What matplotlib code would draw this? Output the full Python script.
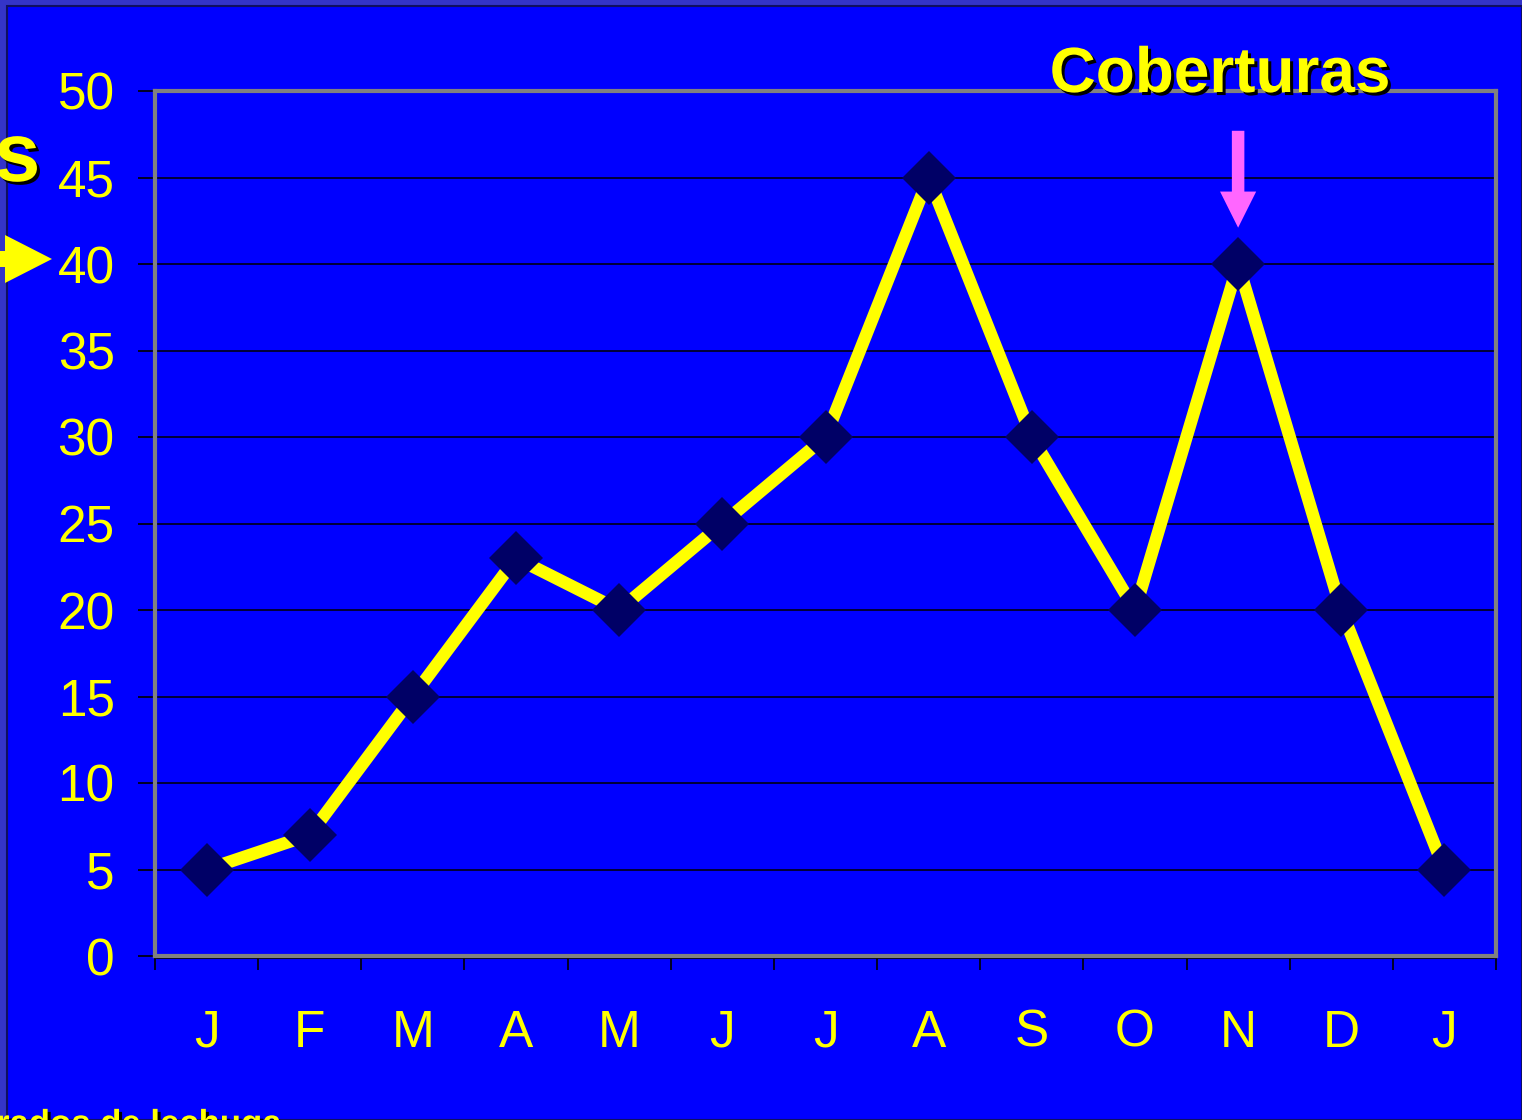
import matplotlib
matplotlib.use("Agg")
import matplotlib.pyplot as plt
import matplotlib.patheffects as pe
from matplotlib.patches import Rectangle, Polygon

months = ["J", "F", "M", "A", "M", "J", "J", "A", "S", "O", "N", "D", "J"]
values = [5, 7, 15, 23, 20, 25, 30, 45, 30, 20, 40, 20, 5]
yticks = [0, 5, 10, 15, 20, 25, 30, 35, 40, 45, 50]
annot_label = "Coberturas"
annot_index = 10

W, H = 1522, 1120
plt.rcParams['font.family'] = ['Liberation Sans', 'DejaVu Sans']
fig = plt.figure(figsize=(W / 100, H / 100), dpi=100)
fig.patch.set_facecolor('#3434C8')

def fx(px):
    return px / W

def fy(py):
    return 1 - py / H

# inner blue panel
fig.patches.append(Rectangle((fx(7), 0), 1 - fx(7), fy(6), transform=fig.transFigure,
                             facecolor='#0000FF', edgecolor='#101060', linewidth=1.5, zorder=-5))

ax = fig.add_axes([fx(155), fy(956), fx(1496) - fx(155), fy(91) - fy(956)])
ax.set_zorder(2)
ax.set_facecolor('#0000FF')
x = list(range(len(months)))
ax.plot(x, values, color='#FFFF00', linewidth=9, zorder=3, solid_capstyle='butt')
ax.plot(x, values, linestyle='none', marker='D', markersize=27, color='#000066',
        markeredgewidth=0, zorder=4)

ax.set_xlim(-0.5, len(months) - 0.5)
ax.set_ylim(0, 50)
ax.set_yticks(yticks)
ax.set_yticklabels([str(v) for v in yticks])
ax.set_xticks(x)
ax.set_xticklabels(months)
ax.set_xticks([i - 0.5 for i in range(len(months) + 1)], minor=True)

ax.tick_params(axis='y', colors='black', labelcolor='#FFFF00', labelsize=37,
               length=12, width=1.2, pad=17, direction='out')
ax.tick_params(axis='x', which='major', length=0, labelcolor='#FFFF00', labelsize=37, pad=38)
ax.tick_params(axis='x', which='minor', length=10, width=1.2, colors='black', direction='out')

for v in yticks[1:-1]:
    ax.axhline(v, color='black', linewidth=1.1, zorder=1)

for s in ax.spines.values():
    s.set_color('#808080')
    s.set_linewidth(3)
ax.axvline(-0.5, color='black', linewidth=1.3, zorder=2, clip_on=False)
ax.axhline(-0.12, color='black', linewidth=1.3, zorder=2, clip_on=False)

# pink arrow above N
ax.annotate('', xy=(annot_index, 42.1), xytext=(annot_index, 47.7),
            arrowprops=dict(arrowstyle='simple,head_length=1.3,head_width=1.3,tail_width=0.45',
                            mutation_scale=20, color='#FF66FF', lw=0,
                            shrinkA=0, shrinkB=0), zorder=5)

shadow = [pe.SimplePatchShadow(offset=(2.2, -2.2), shadow_rgbFace='black', alpha=1), pe.Normal()]
fig.text(fx(1220), fy(92), annot_label, ha='center', va='baseline', fontsize=46,
         fontweight='bold', color='#FFFF00', path_effects=shadow, zorder=6)

# cut-off texts at edges
fig.text(fx(-6), fy(181), "s", ha='left', va='baseline', fontsize=60,
         fontweight='bold', color='#FFFF00', path_effects=shadow, zorder=6)
fig.text(fx(-4), fy(1134), "rados de lechuga", ha='left', va='baseline', fontsize=25,
         fontweight='bold', color='#FFFF00', path_effects=shadow, zorder=6)

# yellow arrow at left
fig.patches.append(Polygon([(fx(0), fy(251)), (fx(5), fy(251)), (fx(5), fy(235)),
                            (fx(52), fy(259)), (fx(5), fy(283)), (fx(5), fy(267)),
                            (fx(0), fy(267))], closed=True, transform=fig.transFigure,
                           facecolor='#FFFF00', edgecolor='none', zorder=6))

fig.savefig('out.png', dpi=100, facecolor=fig.get_facecolor())
